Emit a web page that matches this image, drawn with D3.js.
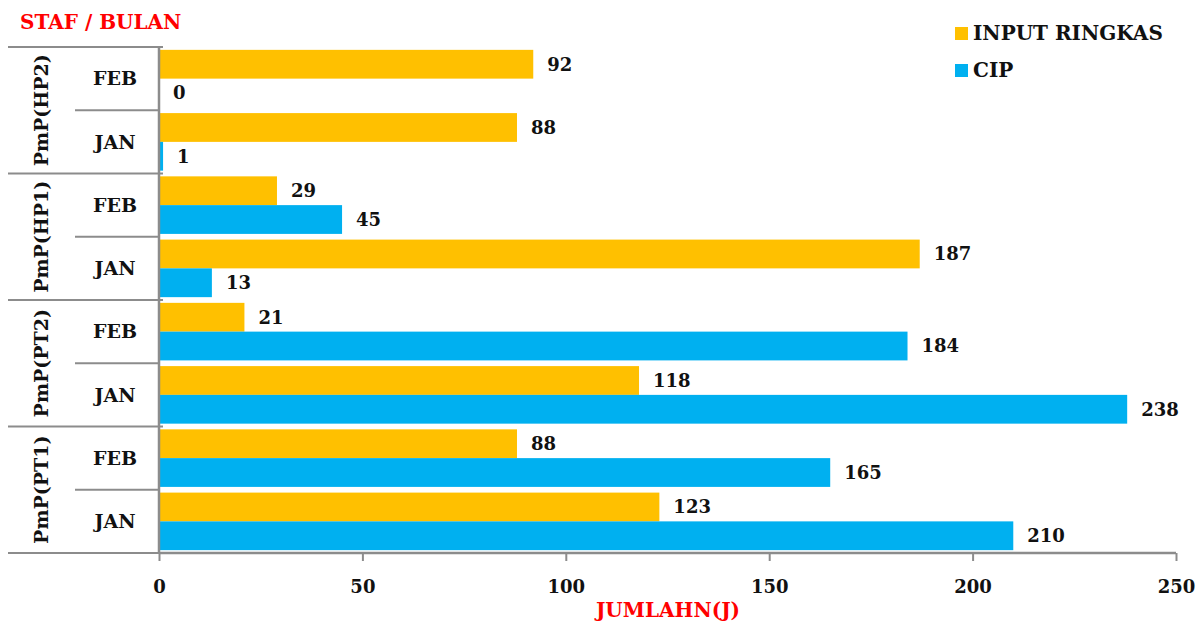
<!DOCTYPE html>
<html>
<head>
<meta charset="utf-8">
<script src="https://cdn.jsdelivr.net/npm/d3@7"></script>
<style>
  body { margin: 0; background: #fff; }
  svg text { font-family: "DejaVu Serif", "Liberation Serif", serif; font-weight: bold; }
</style>
</head>
<body>
<div class="graph"></div>
<script>
// groups from top to bottom, months inside each group
const groups = ["PmP(HP2)", "PmP(HP1)", "PmP(PT2)", "PmP(PT1)"];
const months = ["FEB", "JAN"];
const seriesNames = ["INPUT RINGKAS", "CIP"];
// values in group/month order: HP2 FEB, HP2 JAN, HP1 FEB, HP1 JAN, ...
const inputRingkas = [92, 88, 29, 187, 21, 118, 88, 123];
const cip = [0, 1, 45, 13, 184, 238, 165, 210];
const xTicks = [0, 50, 100, 150, 200, 250];

const colors = ["#FFC000", "#00B0F0"];
const outerWidth = 1197, outerHeight = 625;
const margin = { top: 47, right: 21, bottom: 72, left: 159 };
const width = outerWidth - margin.left - margin.right,
      height = outerHeight - margin.top - margin.bottom;

const rows = [];
groups.forEach((g, gi) => {
    months.forEach((m, mi) => {
        const i = gi * months.length + mi;
        rows.push({ key: g + "|" + m, group: g, month: m, values: [inputRingkas[i], cip[i]] });
    });
});

const svg = d3.select(".graph").append("svg")
    .attr("width", outerWidth)
    .attr("height", outerHeight);

const g = svg.append("g")
    .attr("transform", `translate(${margin.left},${margin.top})`);

const x = d3.scaleLinear().domain([0, 250]).range([0, width]);
const yRow = d3.scaleBand().domain(rows.map(d => d.key)).range([0, height]).paddingInner(0.09).paddingOuter(0.045);
const ySer = d3.scaleBand().domain(seriesNames).range([0, yRow.bandwidth()]);
const yGroup = d3.scaleBand().domain(groups).range([0, height]);
const step = height / rows.length;

const axisColor = "#8c8c8c";

// bars
rows.forEach(r => {
    const row = g.append("g").attr("transform", `translate(0,${yRow(r.key)})`);
    r.values.forEach((v, si) => {
        row.append("rect")
            .attr("x", 0)
            .attr("y", ySer(seriesNames[si]))
            .attr("width", x(v))
            .attr("height", ySer.bandwidth())
            .attr("fill", colors[si]);
        row.append("text")
            .attr("x", x(v) + 14)
            .attr("y", ySer(seriesNames[si]) + ySer.bandwidth() / 2)
            .attr("dy", "0.36em")
            .attr("font-size", 18)
            .attr("fill", "#111")
            .text(v);
    });
});

// x axis
const xAxis = g.append("g")
    .attr("transform", `translate(0,${height})`)
    .call(d3.axisBottom(x).tickValues(xTicks).tickSize(8).tickPadding(19));
xAxis.select(".domain").attr("stroke", axisColor).attr("stroke-width", 2.5).attr("d", `M0,0H${width}`);
xAxis.selectAll(".tick line").attr("stroke", axisColor).attr("stroke-width", 2);
xAxis.selectAll(".tick text").attr("font-size", 18).attr("fill", "#111")
    .attr("font-family", "DejaVu Serif, serif").attr("font-weight", "bold");

// category axis: vertical line + separators
g.append("line").attr("x1", 0).attr("x2", 0).attr("y1", 0).attr("y2", height)
    .attr("stroke", axisColor).attr("stroke-width", 2.5);
groups.concat([null]).forEach((gr, gi) => {
    const yy = gi * months.length * step;
    g.append("line").attr("x1", 8 - margin.left).attr("x2", 4).attr("y1", yy).attr("y2", yy)
        .attr("stroke", axisColor).attr("stroke-width", 2);
});
groups.forEach((gr, gi) => {
    const yy = (gi * months.length + 1) * step;
    g.append("line").attr("x1", 75 - margin.left).attr("x2", 0).attr("y1", yy).attr("y2", yy)
        .attr("stroke", axisColor).attr("stroke-width", 2);
});

// month labels
rows.forEach((r, i) => {
    g.append("text")
        .attr("x", 115 - margin.left)
        .attr("y", i * step + step / 2)
        .attr("dy", "0.36em")
        .attr("text-anchor", "middle")
        .attr("font-size", 19)
        .attr("fill", "#111")
        .text(r.month);
});

// group labels (rotated)
groups.forEach(gr => {
    const cy = yGroup(gr) + yGroup.bandwidth() / 2;
    g.append("text")
        .attr("transform", `translate(${41 - margin.left},${cy}) rotate(-90)`)
        .attr("dy", "0.36em")
        .attr("text-anchor", "middle")
        .attr("font-size", 19)
        .attr("fill", "#111")
        .text(gr);
});

// titles
svg.append("text").attr("x", 20).attr("y", 29)
    .attr("font-size", 20).attr("fill", "#ff0000").text("STAF / BULAN");
svg.append("text").attr("x", 668).attr("y", 617).attr("text-anchor", "middle")
    .attr("font-size", 20).attr("fill", "#ff0000").text("JUMLAHN(J)");

// legend
seriesNames.forEach((s, i) => {
    const ly = 33 + i * 37;
    svg.append("rect").attr("x", 955).attr("y", ly - 6).attr("width", 13).attr("height", 13)
        .attr("fill", colors[i]);
    svg.append("text").attr("x", 973).attr("y", ly).attr("dy", "0.36em")
        .attr("font-size", 20).attr("fill", "#111").text(s);
});
</script>
</body>
</html>
